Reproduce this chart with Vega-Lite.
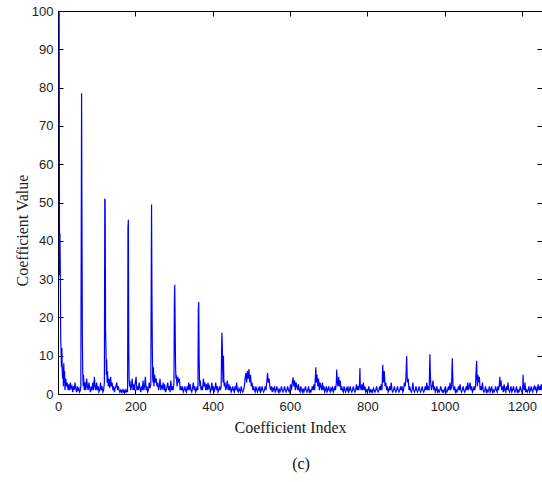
{
 "$schema": "https://vega.github.io/schema/vega-lite/v6.json",
 "width": 484, "height": 383,
 "autosize": {"type": "none"},
 "padding": {"left": 58, "top": 11, "right": 0, "bottom": 88},
 "background": "white",
 "title": {"text": "(c)", "orient": "bottom", "anchor": "middle", "font": "Liberation Serif", "fontSize": 16, "fontWeight": "normal", "color": "#111", "offset": 21, "dx": 1},
 "config": {"view": {"stroke": null}},
 "data": {"values": [
{"i":0,"v":100},{"i":3,"v":100},{"i":4,"v":31},{"i":5,"v":42},{"i":6,"v":32},{"i":7,"v":14},{"i":8,"v":11},{"i":9,"v":7},{"i":10,"v":12},{"i":11,"v":6},{"i":12,"v":4},{"i":13,"v":7},{"i":14,"v":2},{"i":15,"v":8},{"i":16,"v":3},{"i":17,"v":6},{"i":18,"v":1},{"i":20,"v":4},{"i":22,"v":2},{"i":24,"v":3},{"i":26,"v":1},{"i":28,"v":2.5},{"i":30,"v":1},{"i":32,"v":3},{"i":34,"v":1.5},{"i":36,"v":2},{"i":38,"v":0.5},{"i":40,"v":2},{"i":42,"v":1},{"i":44,"v":3},{"i":46,"v":1.5},{"i":48,"v":0.5},{"i":50,"v":2},{"i":52,"v":1},{"i":54,"v":1.5},{"i":56,"v":0.5},{"i":58,"v":1},
{"i":59,"v":2},{"i":60,"v":36},{"i":61,"v":78.5},{"i":62,"v":45},{"i":63,"v":15},{"i":64,"v":6},{"i":65,"v":2},{"i":66,"v":5},{"i":68,"v":1},{"i":70,"v":3},{"i":72,"v":1},{"i":74,"v":4},{"i":76,"v":2},{"i":78,"v":1},{"i":80,"v":3},{"i":82,"v":1.5},{"i":84,"v":0.5},{"i":86,"v":2},{"i":88,"v":1},{"i":90,"v":3},{"i":92,"v":1},{"i":94,"v":4.5},{"i":96,"v":2},{"i":98,"v":1},{"i":100,"v":3},{"i":102,"v":1},{"i":104,"v":2},{"i":106,"v":0.5},{"i":108,"v":1},{"i":110,"v":3},{"i":112,"v":1},{"i":114,"v":2},{"i":116,"v":0.5},{"i":118,"v":1},{"i":120,"v":3},
{"i":121,"v":51},{"i":122,"v":50.5},{"i":123,"v":17},{"i":124,"v":12},{"i":125,"v":5},{"i":126,"v":9},{"i":127,"v":3},{"i":128,"v":6},{"i":130,"v":2},{"i":132,"v":4},{"i":134,"v":1.5},{"i":136,"v":4.5},{"i":138,"v":2},{"i":140,"v":3},{"i":142,"v":1},{"i":144,"v":2},{"i":146,"v":0.5},{"i":148,"v":1.5},{"i":150,"v":2},{"i":152,"v":3},{"i":154,"v":1},{"i":156,"v":2},{"i":158,"v":1},{"i":160,"v":0.5},{"i":162,"v":1},{"i":164,"v":0.5},{"i":166,"v":1},{"i":168,"v":0.5},{"i":170,"v":1},{"i":172,"v":0.3},{"i":174,"v":1},{"i":176,"v":0.5},{"i":178,"v":1},{"i":180,"v":0.5},
{"i":181,"v":43.5},{"i":182,"v":45.5},{"i":183,"v":12},{"i":184,"v":4},{"i":185,"v":2},{"i":186,"v":3.5},{"i":188,"v":1},{"i":190,"v":2},{"i":192,"v":4},{"i":194,"v":1},{"i":196,"v":2.5},{"i":198,"v":1},{"i":200,"v":3},{"i":202,"v":4.5},{"i":204,"v":1},{"i":206,"v":2},{"i":208,"v":1},{"i":210,"v":3},{"i":212,"v":1.5},{"i":214,"v":0.5},{"i":216,"v":2},{"i":218,"v":1},{"i":220,"v":3.5},{"i":222,"v":1},{"i":224,"v":2},{"i":226,"v":4.5},{"i":228,"v":1},{"i":230,"v":2},{"i":232,"v":0.5},{"i":234,"v":1},{"i":236,"v":3},{"i":238,"v":1.5},{"i":240,"v":2.5},
{"i":241,"v":25},{"i":242,"v":49.5},{"i":243,"v":26},{"i":244,"v":12},{"i":245,"v":4},{"i":246,"v":3},{"i":247,"v":7},{"i":248,"v":2},{"i":250,"v":5},{"i":252,"v":3},{"i":254,"v":4},{"i":256,"v":2},{"i":258,"v":3},{"i":260,"v":1},{"i":262,"v":2},{"i":264,"v":4},{"i":266,"v":1},{"i":268,"v":2},{"i":270,"v":1.5},{"i":272,"v":3},{"i":274,"v":1},{"i":276,"v":2.5},{"i":278,"v":0.5},{"i":280,"v":1},{"i":282,"v":2},{"i":284,"v":3},{"i":286,"v":1},{"i":288,"v":2},{"i":290,"v":0.5},{"i":292,"v":3.5},{"i":294,"v":1},{"i":296,"v":2},{"i":298,"v":1},{"i":300,"v":3},
{"i":301,"v":24},{"i":302,"v":28.5},{"i":303,"v":18.5},{"i":304,"v":8},{"i":305,"v":4},{"i":306,"v":5},{"i":308,"v":2},{"i":310,"v":4.5},{"i":312,"v":3},{"i":314,"v":4},{"i":316,"v":1},{"i":318,"v":2},{"i":320,"v":1},{"i":322,"v":2},{"i":324,"v":0.5},{"i":326,"v":1},{"i":328,"v":2},{"i":330,"v":1},{"i":332,"v":0.5},{"i":334,"v":2},{"i":336,"v":1},{"i":338,"v":3},{"i":340,"v":1},{"i":342,"v":2.5},{"i":344,"v":1},{"i":346,"v":0.5},{"i":348,"v":1.5},{"i":350,"v":3},{"i":352,"v":1},{"i":354,"v":2},{"i":356,"v":0.5},{"i":358,"v":1},{"i":360,"v":2},{"i":362,"v":1},
{"i":363,"v":22},{"i":364,"v":24},{"i":365,"v":10},{"i":366,"v":4},{"i":367,"v":2},{"i":368,"v":3.5},{"i":370,"v":1},{"i":372,"v":2},{"i":374,"v":1},{"i":376,"v":4},{"i":378,"v":2},{"i":380,"v":3},{"i":382,"v":1},{"i":384,"v":2.5},{"i":386,"v":1},{"i":388,"v":3},{"i":390,"v":1.5},{"i":392,"v":2},{"i":394,"v":0.5},{"i":396,"v":1},{"i":398,"v":3},{"i":400,"v":1},{"i":402,"v":2},{"i":404,"v":0.5},{"i":406,"v":1.5},{"i":408,"v":3},{"i":410,"v":1},{"i":412,"v":2},{"i":414,"v":0.5},{"i":416,"v":1},{"i":418,"v":2},{"i":420,"v":1},{"i":422,"v":2},
{"i":423,"v":10},{"i":424,"v":16},{"i":425,"v":13},{"i":426,"v":6},{"i":427,"v":3},{"i":428,"v":10},{"i":429,"v":4},{"i":430,"v":2},{"i":432,"v":3},{"i":434,"v":1},{"i":436,"v":2},{"i":438,"v":3.5},{"i":440,"v":1},{"i":442,"v":2.5},{"i":444,"v":1},{"i":446,"v":2},{"i":448,"v":0.5},{"i":450,"v":1},{"i":452,"v":2},{"i":454,"v":1},{"i":456,"v":0.5},{"i":458,"v":2},{"i":460,"v":1},{"i":462,"v":3},{"i":464,"v":1},{"i":466,"v":0.5},{"i":468,"v":1.5},{"i":470,"v":1},{"i":472,"v":0.5},{"i":474,"v":2},{"i":476,"v":1},{"i":478,"v":0.5},{"i":480,"v":1},{"i":482,"v":2},
{"i":484,"v":4},{"i":486,"v":5.5},{"i":488,"v":3},{"i":490,"v":6},{"i":492,"v":4},{"i":494,"v":6.5},{"i":496,"v":3},{"i":498,"v":5},{"i":500,"v":2},{"i":502,"v":3},{"i":504,"v":1},{"i":506,"v":2},{"i":508,"v":1},{"i":510,"v":0.5},{"i":512,"v":2},{"i":514,"v":1},{"i":516,"v":0.5},{"i":518,"v":1.5},{"i":520,"v":1},{"i":522,"v":2},{"i":524,"v":0.5},{"i":526,"v":1},{"i":528,"v":2},{"i":530,"v":1},{"i":532,"v":0.5},{"i":534,"v":1},{"i":536,"v":2},{"i":538,"v":1},{"i":540,"v":3},
{"i":542,"v":5.5},{"i":544,"v":3},{"i":546,"v":4},{"i":548,"v":2},{"i":550,"v":1},{"i":552,"v":2},{"i":554,"v":0.5},{"i":556,"v":1.5},{"i":558,"v":1},{"i":560,"v":2},{"i":562,"v":0.5},{"i":564,"v":1},{"i":566,"v":2},{"i":568,"v":1},{"i":570,"v":0.5},{"i":572,"v":1.5},{"i":574,"v":0.5},{"i":576,"v":1},{"i":578,"v":2},{"i":580,"v":1},{"i":582,"v":0.5},{"i":584,"v":1},{"i":586,"v":2},{"i":588,"v":1},{"i":590,"v":0.5},{"i":592,"v":1},{"i":594,"v":2},{"i":596,"v":1},{"i":598,"v":0.5},{"i":600,"v":1.5},{"i":602,"v":2.5},{"i":604,"v":1},
{"i":606,"v":3},{"i":608,"v":4.3},{"i":610,"v":2},{"i":612,"v":3.5},{"i":614,"v":1},{"i":616,"v":3},{"i":618,"v":2},{"i":620,"v":1},{"i":622,"v":2.5},{"i":624,"v":1},{"i":626,"v":0.5},{"i":628,"v":2},{"i":630,"v":1},{"i":632,"v":0.5},{"i":634,"v":1.5},{"i":636,"v":0.5},{"i":638,"v":1},{"i":640,"v":2},{"i":642,"v":1},{"i":644,"v":0.5},{"i":646,"v":1},{"i":648,"v":2},{"i":650,"v":0.5},{"i":652,"v":1},{"i":654,"v":0.5},{"i":656,"v":1},{"i":658,"v":2},{"i":660,"v":1},{"i":662,"v":2.5},{"i":664,"v":1},
{"i":666,"v":5},{"i":667,"v":7},{"i":668,"v":3},{"i":670,"v":5},{"i":672,"v":2},{"i":674,"v":4},{"i":676,"v":1},{"i":678,"v":3},{"i":680,"v":2},{"i":682,"v":1},{"i":684,"v":3},{"i":686,"v":1},{"i":688,"v":2},{"i":690,"v":0.5},{"i":692,"v":1},{"i":694,"v":2},{"i":696,"v":0.5},{"i":698,"v":1},{"i":700,"v":2},{"i":702,"v":1},{"i":704,"v":0.5},{"i":706,"v":1.5},{"i":708,"v":1},{"i":710,"v":2},{"i":712,"v":0.5},{"i":714,"v":1},{"i":716,"v":2},{"i":718,"v":1},
{"i":720,"v":3},{"i":721,"v":6.4},{"i":722,"v":4},{"i":724,"v":2},{"i":726,"v":4.5},{"i":728,"v":2},{"i":730,"v":3.5},{"i":732,"v":1},{"i":734,"v":2},{"i":736,"v":1},{"i":738,"v":0.5},{"i":740,"v":2},{"i":742,"v":1},{"i":744,"v":0.5},{"i":746,"v":1.5},{"i":748,"v":1},{"i":750,"v":2},{"i":752,"v":0.5},{"i":754,"v":1},{"i":756,"v":2},{"i":758,"v":1},{"i":760,"v":0.5},{"i":762,"v":1},{"i":764,"v":2},{"i":766,"v":1},{"i":768,"v":0.5},{"i":770,"v":1},{"i":772,"v":2.5},{"i":774,"v":1},{"i":776,"v":2},{"i":778,"v":1},
{"i":780,"v":3},{"i":781,"v":6.7},{"i":782,"v":2},{"i":784,"v":1},{"i":786,"v":2.5},{"i":788,"v":1},{"i":790,"v":3},{"i":792,"v":1},{"i":794,"v":2},{"i":796,"v":0.5},{"i":798,"v":1},{"i":800,"v":0.5},{"i":802,"v":1},{"i":804,"v":2},{"i":806,"v":0.5},{"i":808,"v":1},{"i":810,"v":0.5},{"i":812,"v":1},{"i":814,"v":0.5},{"i":816,"v":1.5},{"i":818,"v":1},{"i":820,"v":0.5},{"i":822,"v":1},{"i":824,"v":2},{"i":826,"v":1},{"i":828,"v":0.5},{"i":830,"v":1},{"i":832,"v":2},{"i":834,"v":1},{"i":836,"v":2.5},{"i":838,"v":1},
{"i":839,"v":4},{"i":840,"v":7.6},{"i":841,"v":5},{"i":842,"v":3},{"i":844,"v":6},{"i":846,"v":2},{"i":848,"v":3},{"i":850,"v":1},{"i":852,"v":2},{"i":854,"v":0.5},{"i":856,"v":1},{"i":858,"v":2},{"i":860,"v":1},{"i":862,"v":3},{"i":864,"v":1},{"i":866,"v":0.5},{"i":868,"v":1},{"i":870,"v":2},{"i":872,"v":1},{"i":874,"v":0.5},{"i":876,"v":1},{"i":878,"v":2},{"i":880,"v":1},{"i":882,"v":0.5},{"i":884,"v":1},{"i":886,"v":2},{"i":888,"v":1},{"i":890,"v":2},{"i":892,"v":0.5},{"i":894,"v":1},{"i":896,"v":3},{"i":898,"v":2},{"i":900,"v":4},
{"i":901,"v":7},{"i":902,"v":9.9},{"i":903,"v":5},{"i":904,"v":3},{"i":906,"v":4},{"i":908,"v":1},{"i":910,"v":2},{"i":912,"v":1},{"i":914,"v":0.5},{"i":916,"v":1},{"i":918,"v":3},{"i":920,"v":1},{"i":922,"v":0.5},{"i":924,"v":1},{"i":926,"v":2},{"i":928,"v":1},{"i":930,"v":0.5},{"i":932,"v":1},{"i":934,"v":2},{"i":936,"v":1},{"i":938,"v":0.5},{"i":940,"v":1},{"i":942,"v":2},{"i":944,"v":1},{"i":946,"v":0.5},{"i":948,"v":1},{"i":950,"v":2},{"i":952,"v":1},{"i":954,"v":3},{"i":956,"v":1},{"i":958,"v":2},{"i":960,"v":1},
{"i":961,"v":5},{"i":962,"v":10.4},{"i":963,"v":6},{"i":964,"v":3},{"i":966,"v":1},{"i":968,"v":2},{"i":970,"v":3.5},{"i":972,"v":1},{"i":974,"v":2},{"i":976,"v":0.5},{"i":978,"v":1},{"i":980,"v":2},{"i":982,"v":0.5},{"i":984,"v":1},{"i":986,"v":0.5},{"i":988,"v":1},{"i":990,"v":2},{"i":992,"v":1},{"i":994,"v":0.5},{"i":996,"v":1},{"i":998,"v":0.5},{"i":1000,"v":1},{"i":1002,"v":2},{"i":1004,"v":1},{"i":1006,"v":0.5},{"i":1008,"v":1},{"i":1010,"v":2},{"i":1012,"v":1},{"i":1014,"v":3},{"i":1016,"v":1},{"i":1018,"v":2},
{"i":1019,"v":6},{"i":1020,"v":9.3},{"i":1021,"v":5},{"i":1022,"v":2},{"i":1024,"v":1},{"i":1026,"v":2},{"i":1028,"v":0.5},{"i":1030,"v":1},{"i":1032,"v":0.5},{"i":1034,"v":1},{"i":1036,"v":2},{"i":1038,"v":1},{"i":1040,"v":2.5},{"i":1042,"v":1},{"i":1044,"v":0.5},{"i":1046,"v":1},{"i":1048,"v":2},{"i":1050,"v":1},{"i":1052,"v":0.5},{"i":1054,"v":1},{"i":1056,"v":2},{"i":1058,"v":1},{"i":1060,"v":3},{"i":1062,"v":1},{"i":1064,"v":2},{"i":1066,"v":3},{"i":1068,"v":1},{"i":1070,"v":2},{"i":1072,"v":0.5},{"i":1074,"v":1},{"i":1076,"v":2},{"i":1078,"v":1},{"i":1080,"v":2},
{"i":1081,"v":5},{"i":1083,"v":8.7},{"i":1084,"v":4},{"i":1085,"v":2},{"i":1086,"v":5},{"i":1088,"v":3},{"i":1090,"v":4.5},{"i":1092,"v":1},{"i":1094,"v":2},{"i":1096,"v":1},{"i":1098,"v":3},{"i":1100,"v":1},{"i":1102,"v":0.5},{"i":1104,"v":1},{"i":1106,"v":2},{"i":1108,"v":0.5},{"i":1110,"v":1},{"i":1112,"v":0.5},{"i":1114,"v":1},{"i":1116,"v":2},{"i":1118,"v":0.5},{"i":1120,"v":1},{"i":1122,"v":2},{"i":1124,"v":0.5},{"i":1126,"v":1},{"i":1128,"v":0.5},{"i":1130,"v":1},{"i":1132,"v":2},{"i":1134,"v":1},{"i":1136,"v":0.5},{"i":1138,"v":2},{"i":1140,"v":1},
{"i":1142,"v":3},{"i":1143,"v":4.5},{"i":1144,"v":2},{"i":1146,"v":3.5},{"i":1148,"v":1},{"i":1150,"v":2},{"i":1152,"v":0.5},{"i":1154,"v":2.5},{"i":1156,"v":1},{"i":1158,"v":0.5},{"i":1160,"v":2},{"i":1162,"v":1},{"i":1164,"v":3},{"i":1166,"v":1},{"i":1168,"v":0.5},{"i":1170,"v":1},{"i":1172,"v":2},{"i":1174,"v":0.5},{"i":1176,"v":1},{"i":1178,"v":2},{"i":1180,"v":1},{"i":1182,"v":0.5},{"i":1184,"v":1},{"i":1186,"v":2},{"i":1188,"v":0.5},{"i":1190,"v":1},{"i":1192,"v":0.5},{"i":1194,"v":1},{"i":1196,"v":2},{"i":1198,"v":1},{"i":1200,"v":0.5},{"i":1202,"v":1},
{"i":1203,"v":5},{"i":1204,"v":2},{"i":1206,"v":1},{"i":1208,"v":3},{"i":1210,"v":0.5},{"i":1212,"v":1},{"i":1214,"v":0.5},{"i":1216,"v":1},{"i":1218,"v":2},{"i":1220,"v":0.5},{"i":1222,"v":1},{"i":1224,"v":2},{"i":1226,"v":1},{"i":1228,"v":0.5},{"i":1230,"v":1.5},{"i":1232,"v":2},{"i":1234,"v":1},{"i":1236,"v":2},{"i":1238,"v":0.5},{"i":1240,"v":1},{"i":1242,"v":2.5},{"i":1244,"v":1},{"i":1246,"v":2},{"i":1248,"v":1},{"i":1250,"v":2.5},{"i":1252,"v":1}
 ]},
 "layer": [
  {
   "mark": {"type": "line", "color": "#0000ff", "strokeWidth": 1.2, "clip": true},
   "encoding": {
    "x": {"field": "i", "type": "quantitative", "scale": {"domain": [0, 1252], "nice": false, "zero": false},
          "axis": {"orient": "bottom", "values": [0,200,400,600,800,1000,1200], "format": "d", "grid": false, "tickSize": -5, "tickColor": "#000", "domainColor": "#000",
                   "labelPadding": 11, "labelFont": "Liberation Sans", "labelFontSize": 13, "labelColor": "#222", "labelFlush": false, "labelOverlap": false,
                   "title": "Coefficient Index", "titleFont": "Liberation Serif", "titleFontSize": 16, "titleFontWeight": "normal", "titleColor": "#222",
                   "titleX": 232, "titleY": 38, "titleAlign": "center", "titleBaseline": "alphabetic"}},
    "y": {"field": "v", "type": "quantitative", "scale": {"domain": [0, 100], "nice": false},
          "axis": {"orient": "left", "values": [0,10,20,30,40,50,60,70,80,90,100], "format": "d", "grid": false, "tickSize": -5, "tickColor": "#000", "domainColor": "#000",
                   "labelPadding": 10, "labelFont": "Liberation Sans", "labelFontSize": 13, "labelColor": "#222", "labelFlush": false, "labelOverlap": false,
                   "title": "Coefficient Value", "titleFont": "Liberation Serif", "titleFontSize": 16, "titleFontWeight": "normal", "titleColor": "#222",
                   "titleX": -36, "titleY": 219, "titleAngle": -90, "titleAlign": "center", "titleBaseline": "middle"}}
   }
  },
  {
   "mark": {"type": "point", "opacity": 0},
   "encoding": {
    "x": {"field": "i", "type": "quantitative", "axis": {"orient": "top", "values": [0,200,400,600,800,1000,1200], "grid": false, "labels": false, "title": null, "tickSize": -5, "tickColor": "#000", "domainColor": "#000"}},
    "y": {"field": "v", "type": "quantitative", "axis": {"orient": "right", "values": [0,10,20,30,40,50,60,70,80,90,100], "grid": false, "labels": false, "title": null, "tickSize": -5, "tickColor": "#000", "domainColor": "#000"}}
   }
  }
 ],
 "resolve": {"axis": {"x": "independent", "y": "independent"}}
}
